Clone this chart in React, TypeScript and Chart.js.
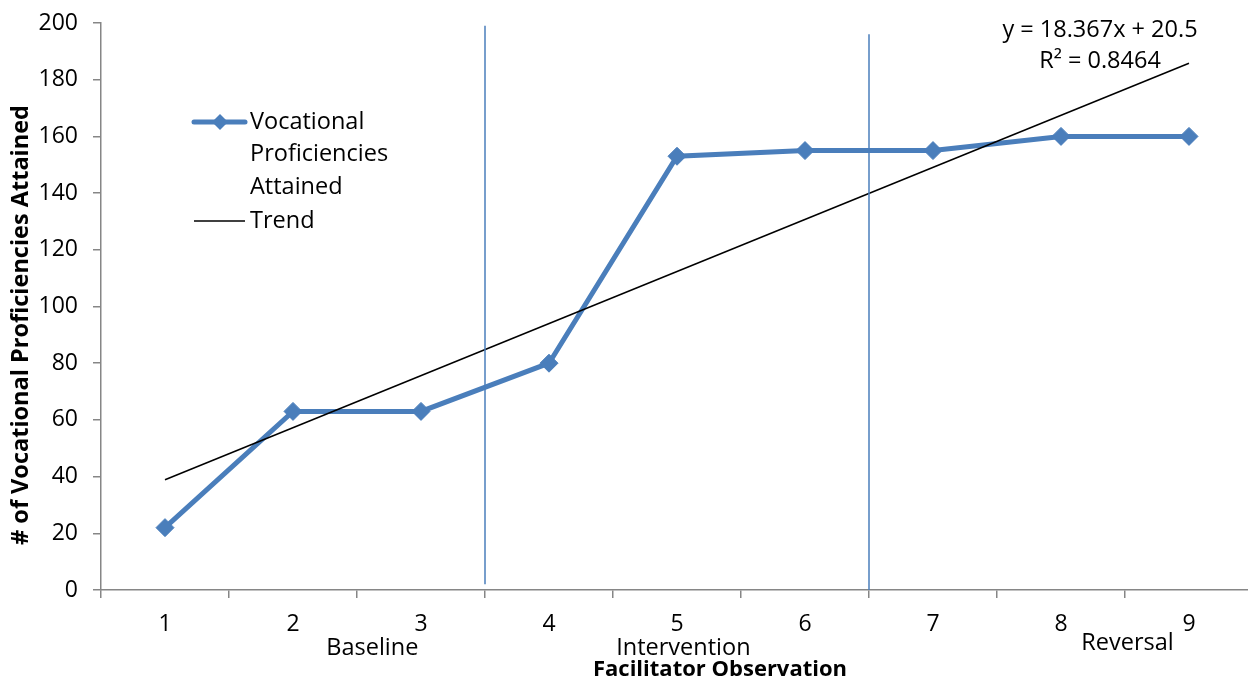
import React, { useEffect, useRef } from "react";
import { Chart, registerables } from "chart.js";

Chart.register(...registerables);

// ---- data ----
const categories = ["1", "2", "3", "4", "5", "6", "7", "8", "9"];
const proficiencies = [22, 63, 63, 80, 153, 155, 155, 160, 160];
const trendValues = [38.9, null, null, null, null, null, null, null, 185.8];
const phaseLabels = ["Baseline", "Intervention", "Reversal"];
const phasePositions = [1.62, 4.05, 7.52];
const dividerPositions = [2.5, 5.5];
const dividerTops = [199, 196];
const dividerBottoms = [2, 0];
const equationLines = ["y = 18.367x + 20.5", "R\u00B2 = 0.8464"];
const seriesName = ["Vocational", "Proficiencies", "Attained"];
const trendName = "Trend";
const yTitle = "# of Vocational Proficiencies Attained";
const xTitle = "Facilitator Observation";

const BLUE = "#4A7EBB";
const FONT = "'Open Sans', sans-serif";

const overlayPlugin = {
  id: "overlay",
  afterDatasetsDraw(chart: any) {
    const ctx = chart.ctx;
    const xs = chart.scales.x;
    const ys = chart.scales.y;
    ctx.save();
    ctx.strokeStyle = BLUE;
    ctx.lineWidth = 1.5;
    dividerPositions.forEach((p, i) => {
      const x = xs.getPixelForValue(p);
      ctx.beginPath();
      ctx.moveTo(x, ys.getPixelForValue(dividerTops[i]));
      ctx.lineTo(x, ys.getPixelForValue(dividerBottoms[i]));
      ctx.stroke();
    });
    ctx.restore();
  },
  afterDraw(chart: any) {
    const ctx = chart.ctx;
    const xs = chart.scales.x;
    ctx.save();
    ctx.fillStyle = "#000";
    ctx.textBaseline = "middle";

    // legend
    ctx.strokeStyle = BLUE;
    ctx.lineWidth = 5;
    ctx.lineCap = "round";
    ctx.beginPath();
    ctx.moveTo(194, 122);
    ctx.lineTo(245, 122);
    ctx.stroke();
    ctx.fillStyle = BLUE;
    ctx.beginPath();
    const r = 8;
    ctx.moveTo(220 - r, 122);
    ctx.lineTo(220, 122 - r);
    ctx.lineTo(220 + r, 122);
    ctx.lineTo(220, 122 + r);
    ctx.closePath();
    ctx.fill();
    ctx.lineCap = "butt";
    ctx.strokeStyle = "#000";
    ctx.lineWidth = 1.5;
    ctx.beginPath();
    ctx.moveTo(194, 221);
    ctx.lineTo(245, 221);
    ctx.stroke();

    ctx.fillStyle = "#000";
    ctx.font = `23.5px ${FONT}`;
    ctx.textAlign = "left";
    seriesName.forEach((t, i) => ctx.fillText(t, 250, 122 + i * 32.5));
    ctx.fillText(trendName, 250, 221);

    // equation
    ctx.textAlign = "center";
    equationLines.forEach((t, i) => ctx.fillText(t, 1100, 30 + i * 31));

    // phase labels
    const phaseY = [648, 648, 643];
    phaseLabels.forEach((t, i) => {
      ctx.fillText(t, xs.getPixelForValue(phasePositions[i]), phaseY[i]);
    });

    // axis titles
    ctx.font = `bold 22px ${FONT}`;
    ctx.fillText(xTitle, 720, 670);
    ctx.font = `bold 23.5px ${FONT}`;
    ctx.translate(21, 325);
    ctx.rotate(-Math.PI / 2);
    ctx.fillText(yTitle, 0, 0);
    ctx.restore();
  },
};

export default function App() {
  const ref = useRef<HTMLCanvasElement>(null);
  useEffect(() => {
    if (!ref.current) return;
    Chart.defaults.font.family = FONT;
    Chart.defaults.color = "#000";
    const chart = new Chart(ref.current, {
      type: "line",
      data: {
        labels: categories,
        datasets: [
          {
            label: trendName,
            data: trendValues,
            borderColor: "#000",
            borderWidth: 1.5,
            pointRadius: 0,
            spanGaps: true,
            order: 0,
          },
          {
            label: seriesName.join(" "),
            data: proficiencies,
            borderColor: BLUE,
            backgroundColor: BLUE,
            borderWidth: 5,
            pointStyle: "rectRot",
            pointRadius: 9,
            pointBorderWidth: 1,
            pointBackgroundColor: BLUE,
            pointBorderColor: BLUE,
            tension: 0,
            order: 1,
          },
        ],
      },
      options: {
        animation: false,
        responsive: false,
        events: [],
        layout: { padding: { top: 23, right: 7, left: 0, bottom: 0 } },
        plugins: { legend: { display: false }, tooltip: { enabled: false } },
        scales: {
          x: {
            offset: true,
            grid: {
              offset: true,
              drawOnChartArea: false,
              tickLength: 8,
              color: "#868686",
              lineWidth: 1.5,
            },
            border: { color: "#868686", width: 1.5 },
            ticks: { font: { size: 23 }, padding: 13, maxRotation: 0, color: "#000" },
            afterFit: (s: any) => {
              s.height = 91;
              s.paddingLeft = 0;
              s.paddingRight = 0;
            },
          },
          y: {
            min: 0,
            max: 200,
            grid: {
              drawOnChartArea: false,
              tickLength: 8,
              color: "#868686",
              lineWidth: 1.5,
            },
            border: { color: "#868686", width: 1.5 },
            ticks: { stepSize: 20, font: { size: 23 }, padding: 15, color: "#000" },
            afterFit: (s: any) => {
              s.width = 101;
              s.paddingTop = 0;
              s.paddingBottom = 0;
            },
          },
        },
      },
      plugins: [overlayPlugin],
    });
    return () => chart.destroy();
  }, []);
  return (
    <div
      style={{
        position: "fixed",
        left: 0,
        top: 0,
        width: 1248,
        height: 681,
        overflow: "hidden",
        background: "#fff",
      }}
    >
      <canvas ref={ref} width={1263} height={681} style={{ display: "block" }} />
    </div>
  );
}
